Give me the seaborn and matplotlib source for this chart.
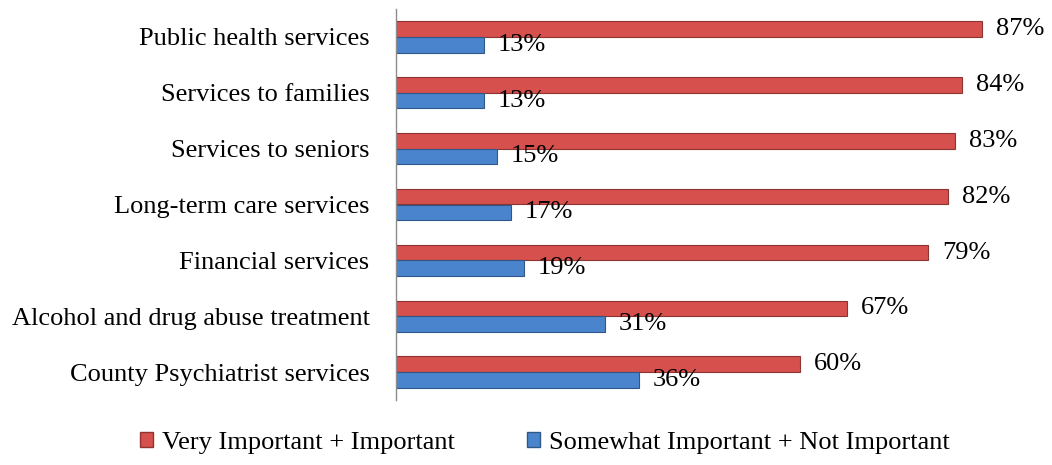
import numpy as np
import pandas as pd
import matplotlib.pyplot as plt
import seaborn as sns

sns.set_theme(style="white")
plt.rcParams['font.family'] = ['Liberation Serif', 'DejaVu Serif']
plt.rcParams['text.color'] = 'black'
plt.rcParams['ytick.color'] = 'black'

# ---------------------------
# Data
# ---------------------------
services = [
    "Public health services",
    "Services to families",
    "Services to seniors",
    "Long-term care services",
    "Financial services",
    "Alcohol and drug abuse treatment",
    "County Psychiatrist services",
]
very_important = [87, 84, 83, 82, 79, 67, 60]
somewhat_important = [13, 13, 15, 17, 19, 31, 36]
series_names = ["Very Important + Important", "Somewhat Important + Not Important"]
colors = ["#D6504D", "#4A84CC"]
edge_colors = ["#8E3532", "#2F5887"]

df = pd.DataFrame({
    "service": services * 2,
    "value": very_important + somewhat_important,
    "group": [series_names[0]] * len(services) + [series_names[1]] * len(services),
})

# ---------------------------
# Plot
# ---------------------------
fig = plt.figure(figsize=(10.52, 4.65), dpi=100)
ax = fig.add_axes([396 / 1052, 1 - 400 / 465, 640 / 1052, 391 / 465])

sns.barplot(data=df, y="service", x="value", hue="group", orient="h",
            palette=colors, saturation=1, width=0.56, ax=ax, legend=False)

for bars, ec in zip(ax.containers, edge_colors):
    for b in bars:
        b.set_edgecolor(ec)
        b.set_linewidth(0.8)
    ax.bar_label(bars, labels=[f"{int(v)}%" for v in bars.datavalues],
                 padding=10, fontsize=19, color="black")

ax.set_xlim(0, 95)
ax.set_ylim(6.5, -0.5)
ax.set_xlabel("")
ax.set_ylabel("")
ax.set_xticks([])
ax.tick_params(axis="y", length=0, pad=19, labelsize=19)
for side in ["top", "right", "bottom"]:
    ax.spines[side].set_visible(False)
ax.spines["left"].set_color("#8C8C8C")
ax.spines["left"].set_linewidth(1)

# Legend
handles = [plt.Rectangle((0, 0), 1, 1, facecolor=c, edgecolor=e)
           for c, e in zip(colors, edge_colors)]
fig.legend(handles, series_names, loc="center", bbox_to_anchor=(0.518, 1 - 443 / 465),
           ncol=2, frameon=False, fontsize=19, handlelength=0.5, handleheight=0.5,
           handletextpad=0.35, columnspacing=2.7)

fig.savefig("out.png", dpi=100)
